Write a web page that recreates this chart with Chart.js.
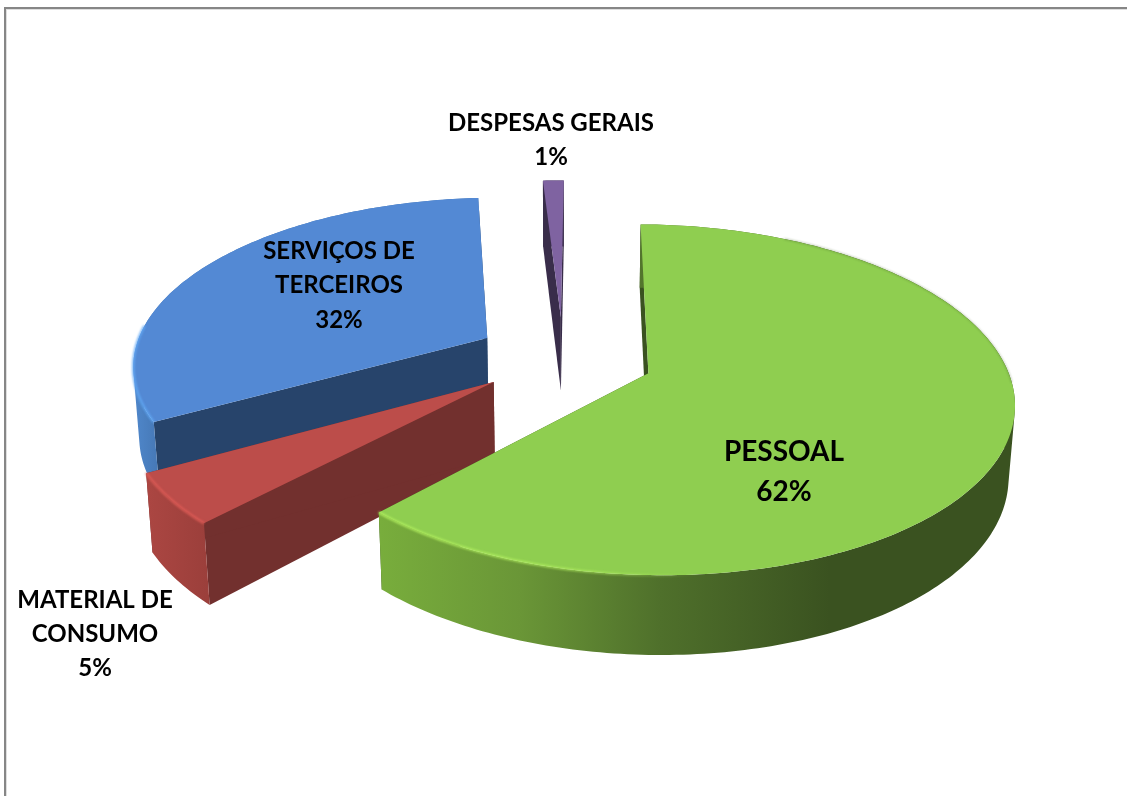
<!DOCTYPE html>
<html>
<head>
<meta charset="utf-8">
<title>Despesas</title>
<script src="https://cdn.jsdelivr.net/npm/chart.js@4"></script>
<style>
html,body{margin:0;padding:0;background:#fff;}
canvas{display:block;}
</style>
</head>
<body>
<canvas id="c" width="1127" height="796"></canvas>
<script>
// ---- data ----
const categories = ['PESSOAL', 'MATERIAL DE CONSUMO', 'SERVIÇOS DE TERCEIROS', 'DESPESAS GERAIS'];
const values = [62, 4.8, 32.1, 1.1];
const labelLines = [['PESSOAL'], ['MATERIAL DE', 'CONSUMO'], ['SERVIÇOS DE', 'TERCEIROS'], ['DESPESAS GERAIS']];
const topColors = ['#8FCE50', '#BC4D4A', '#5389D4', '#7F63A1'];
const cutColors = ['#3A5220', '#72302E', '#27446B', '#392D4A'];

// ---- projection of the flat pie into the tilted view ----
const VIEW = {cx: 563, cy: 358, rx: 358, ry: 168, persp: 0.15, depth: 71, shrink: 0.014};
// per-slice fine placement: screen shift, radius factor, depth factor
const sliceFit = [
  {dx: 5, dy: 0, s: 0.993, d: 1},
  {dx: 0, dy: -1, s: 0.99, d: 1.05},
  {dx: -2, dy: -1, s: 0.99, d: 1},
  {dx: 0, dy: -2, s: 1, d: 1.08}
];
// ---- label layout: [centre x, first line y, line height, font px] ----
const labelPos = [[784, 451.5, 40, 28], [95, 600.5, 34, 24], [339, 251, 34.5, 24], [551, 123, 34.5, 24]];
const wallStops = [
  [[380,'#78AD3C'],[520,'#6A9637'],[660,'#4F702B'],[830,'#3A5220'],[1015,'#3A5220']],
  [[148,'#AB4642'],[208,'#9B3F3B']],
  [[133,'#5088CC'],[160,'#4577B4']],
  [[543,'#392D4A'],[563,'#392D4A']]
];

function project(X, Y, z, fit) {
  const w = 1 - VIEW.persp * Y + VIEW.shrink * z;
  return [VIEW.cx + fit.dx + VIEW.rx * X / w, VIEW.cy + fit.dy + (VIEW.ry * Y + VIEW.depth * fit.d * z) / w];
}
function tracePts(ctx, pts) {
  ctx.beginPath();
  pts.forEach((p, i) => i ? ctx.lineTo(p[0], p[1]) : ctx.moveTo(p[0], p[1]));
  ctx.closePath();
}
function hGrad(ctx, stops) {
  const x0 = stops[0][0], x1 = stops[stops.length - 1][0];
  const g = ctx.createLinearGradient(x0, 0, x1, 0);
  stops.forEach(s => g.addColorStop((s[0] - x0) / (x1 - x0), s[1]));
  return g;
}
function strokeRim(ctx, pts) {
  ctx.beginPath();
  pts.forEach((p, i) => i ? ctx.lineTo(p[0], p[1]) : ctx.moveTo(p[0], p[1]));
  ctx.stroke();
}
function area(q) {
  let a = 0;
  q.forEach((p, i) => { const r = q[(i + 1) % q.length]; a += p[0] * r[1] - r[0] * p[1]; });
  return a;
}

const pie3d = {
  id: 'pie3d',
  beforeDraw(chart) {
    const ctx = chart.ctx;
    ctx.fillStyle = '#868686';
    ctx.fillRect(4, 7, 1123, 2);
    ctx.fillRect(4, 7, 2, 789);
    ctx.fillStyle = '#DEDEDE';
    ctx.fillRect(6, 9, 1121, 1);
    ctx.fillRect(6, 9, 1, 787);
  },
  beforeDatasetsDraw(chart) {
    const ctx = chart.ctx;
    const arcs = chart.getDatasetMeta(0).data;
    const geo = arcs.map((a, i) => {
      const mid = (a.startAngle + a.endAngle) / 2;
      const off = a.options.offset / a.outerRadius;
      const ox = Math.cos(mid) * off, oy = Math.sin(mid) * off;
      const fit = sliceFit[i];
      return {
        a0: a.startAngle, a1: a.endAngle, ox, oy, fit,
        rim(z, n) {
          const pts = [];
          for (let k = 0; k <= n; k++) {
            const t = this.a0 + (this.a1 - this.a0) * k / n;
            pts.push(project(ox + fit.s * Math.cos(t), oy + fit.s * Math.sin(t), z, fit));
          }
          return pts;
        }
      };
    });
    // back-to-front
    [3, 2, 1, 0].forEach(i => {
      const g = geo[i];
      const n = Math.max(6, Math.round((g.a1 - g.a0) * 60));
      const topRim = g.rim(0, n), botRim = g.rim(1, n);
      const apexT = project(g.ox, g.oy, 0, g.fit), apexB = project(g.ox, g.oy, 1, g.fit);
      // the two flat cut faces
      ctx.fillStyle = cutColors[i];
      tracePts(ctx, [apexT, topRim[0], botRim[0], apexB]); ctx.fill();
      tracePts(ctx, [apexT, topRim[n], botRim[n], apexB]); ctx.fill();
      // curved outer wall: equally wound quads in one path, no seams, closed silhouette
      ctx.fillStyle = hGrad(ctx, wallStops[i]);
      ctx.beginPath();
      for (let k = 0; k < n; k++) {
        let q = [topRim[k], topRim[k + 1], botRim[k + 1], botRim[k]];
        if (area(q) < 0) q = q.reverse();
        q.forEach((p, j) => j ? ctx.lineTo(p[0], p[1]) : ctx.moveTo(p[0], p[1]));
        ctx.closePath();
      }
      ctx.fill('nonzero');
      // top face
      ctx.fillStyle = topColors[i];
      tracePts(ctx, [apexT].concat(topRim)); ctx.fill();
      // bevel highlight along the near rim
      ctx.save();
      ctx.filter = 'blur(0.8px)';
      ctx.lineWidth = 2.4;
      if (i === 0) {
        const grad = ctx.createLinearGradient(380, 0, 700, 0);
        grad.addColorStop(0, 'rgba(178,240,95,0.95)');
        grad.addColorStop(0.6, 'rgba(178,240,95,0.75)');
        grad.addColorStop(1, 'rgba(178,240,95,0)');
        ctx.strokeStyle = grad;
        strokeRim(ctx, topRim.slice(Math.round(n * 0.55)));
        ctx.lineWidth = 1;
        ctx.strokeStyle = 'rgba(70,100,40,0.55)';
        strokeRim(ctx, topRim.slice(Math.round(n * 0.12), Math.round(n * 0.42)));
      } else if (i === 1) {
        ctx.strokeStyle = 'rgba(222,92,86,0.95)';
        strokeRim(ctx, topRim);
      } else if (i === 2) {
        ctx.strokeStyle = 'rgba(98,168,245,0.9)';
        strokeRim(ctx, topRim.slice(0, Math.round(n * 0.3)));
      }
      ctx.restore();
    });
    drawLabels(chart);
    return false;
  }
};
function drawLabels(chart) {
  const ctx = chart.ctx;
  const total = values.reduce((s, v) => s + v, 0);
  ctx.fillStyle = '#000';
  ctx.textAlign = 'center';
  ctx.textBaseline = 'middle';
  categories.forEach((c, i) => {
    const [x, y, lh, px] = labelPos[i];
    ctx.font = 'bold ' + px + 'px Lato, "Open Sans", sans-serif';
    const lines = labelLines[i].concat([Math.round(values[i] / total * 100) + '%']);
    lines.forEach((t, k) => ctx.fillText(t, x, y + k * lh));
  });
}

new Chart(document.getElementById('c'), {
  type: 'pie',
  data: {
    labels: categories,
    datasets: [{data: values, backgroundColor: topColors, borderWidth: 0, offset: 85}]
  },
  options: {
    responsive: false,
    animation: false,
    rotation: 0.5,
    layout: {padding: 0},
    plugins: {legend: {display: false}, tooltip: {enabled: false}}
  },
  plugins: [pie3d]
});
</script>
</body>
</html>
